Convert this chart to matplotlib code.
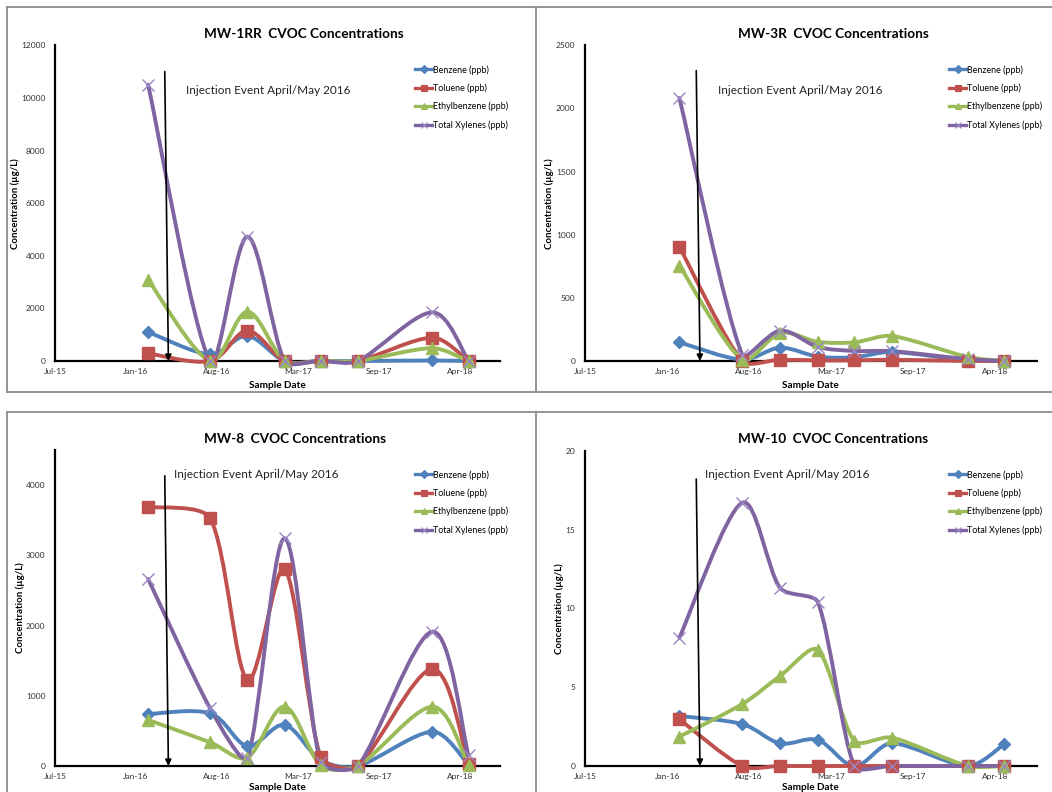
import numpy as np
import pandas as pd
import matplotlib
matplotlib.use('Agg')
import matplotlib.pyplot as plt
import matplotlib.dates as mdates
from matplotlib.path import Path
from matplotlib.patches import PathPatch
from matplotlib.lines import Line2D

plt.rcParams['font.family'] = ['Lato', 'DejaVu Sans']

# ---- data ----
sample_dates = ['2016-03-01', '2016-08-01', '2016-11-01', '2017-02-01',
                '2017-05-01', '2017-08-01', '2018-02-01', '2018-05-01']
series_names = ['Benzene (ppb)', 'Toluene (ppb)', 'Ethylbenzene (ppb)', 'Total Xylenes (ppb)']

mw1rr_benzene = [1100, 250, 950, 0, 0, 0, 20, 0]
mw1rr_toluene = [290, 0, 1150, 0, 0, 0, 890, 0]
mw1rr_ethylbenzene = [3080, 0, 1870, 0, 0, 0, 490, 0]
mw1rr_xylenes = [10500, 0, 4720, 0, 0, 0, 1850, 0]

mw3r_benzene = [148, 10, 105, 35, 30, 72, 5, 0]
mw3r_toluene = [903, 0, 10, 5, 5, 10, 0, 0]
mw3r_ethylbenzene = [755, 10, 220, 152, 148, 198, 32, 0]
mw3r_xylenes = [2082, 50, 240, 112, 80, 78, 15, 0]

mw8_benzene = [740, 750, 285, 584, 85, 0, 488, 20]
mw8_toluene = [3690, 3526, 1224, 2804, 124, 0, 1381, 30]
mw8_ethylbenzene = [655, 337, 120, 844, 10, 0, 844, 10]
mw8_xylenes = [2662, 821, 120, 3241, 50, 0, 1912, 150]

mw10_benzene = [3.17, 2.66, 1.44, 1.65, 0, 1.44, 0, 1.38]
mw10_toluene = [2.96, 0, 0, 0, 0, 0, 0, 0]
mw10_ethylbenzene = [1.86, 3.93, 5.71, 7.36, 1.59, 1.80, 0, 0]
mw10_xylenes = [8.14, 16.7, 11.3, 10.4, 0, 0, 0, 0]

panel_titles = ['MW-1RR  CVOC Concentrations', 'MW-3R  CVOC Concentrations',
                'MW-8  CVOC Concentrations', 'MW-10  CVOC Concentrations']
y_max = [12000, 2500, 4500, 20]
y_step = [2000, 500, 1000, 5]
y_tick_top = [12000, 2500, 4000, 20]
arrow_top = [11000, 2300, 4130, 18.2]

tick_dates = ['2015-07-15', '2016-01-31', '2016-08-18', '2017-03-06', '2017-09-22', '2018-04-10']
tick_labels = ['Jul-15', 'Jan-16', 'Aug-16', 'Mar-17', 'Sep-17', 'Apr-18']
x_start, x_end = '2015-07-15', '2018-07-19'
arrow_dates = ('2016-04-11', '2016-04-20')
note = 'Injection Event April/May 2016'

colors = ['#4F81BD', '#C0504D', '#9BBB59', '#8064A2']
markers = ['D', 's', '^', 'x']
msizes = [6.5, 8, 8, 8.5]

W, H = 1052, 792
fig = plt.figure(figsize=(W / 100, H / 100), dpi=100)


def fx(x):
    return x / W


def fy(y):
    return 1 - y / H


def smooth_patch(ax, xs, ys, color, f=1 / 6):
    # Excel-like smoothed line, built as cubic bezier in screen space
    P = ax.transData.transform(np.column_stack([xs, ys]))
    n = len(P)
    verts, codes = [P[0]], [Path.MOVETO]
    for i in range(n - 1):
        p0 = P[i - 1] if i > 0 else P[i]
        p1, p2 = P[i], P[i + 1]
        p3 = P[i + 2] if i + 2 < n else P[i + 1]
        d01 = np.hypot(*(p1 - p0))
        d12 = np.hypot(*(p2 - p1))
        d23 = np.hypot(*(p3 - p2))
        s1 = min(1, 1.3 * d12 / d01) if d01 > 0 else 1
        s2 = min(1, 1.3 * d12 / d23) if d23 > 0 else 1
        c1 = p1 + f * (p2 - p0) * s1
        c2 = p2 - f * (p3 - p1) * s2
        verts += [c1, c2, p2]
        codes += [Path.CURVE4] * 3
    verts = ax.transData.inverted().transform(np.array(verts))
    patch = PathPatch(Path(verts, codes), facecolor='none', edgecolor=color,
                      lw=2.8, capstyle='round', joinstyle='round', clip_on=False, zorder=3)
    ax.add_patch(patch)


# panel boxes (pixels: left, top, right, bottom)
boxes = [(55, 45.3, 500.5, 361), (585, 45.3, 1036.6, 361),
         (55, 449.9, 500.5, 766), (585, 450.7, 1036.6, 766)]
title_pos = [(304, 34), (833, 34), (295, 439), (833, 439)]
note_pos = [(186, 90), (718, 90), (174, 475), (705, 474)]
legend_pos = [(415, 65), (949, 65), (415, 470), (949, 470)]
ylabel_x = [15, 549, 20, 559]
xlabel_y = [385, 385, 788, 788]

panels = [
    [mw1rr_benzene, mw1rr_toluene, mw1rr_ethylbenzene, mw1rr_xylenes],
    [mw3r_benzene, mw3r_toluene, mw3r_ethylbenzene, mw3r_xylenes],
    [mw8_benzene, mw8_toluene, mw8_ethylbenzene, mw8_xylenes],
    [mw10_benzene, mw10_toluene, mw10_ethylbenzene, mw10_xylenes],
]

xd = mdates.date2num(pd.to_datetime(sample_dates))
xt = mdates.date2num(pd.to_datetime(tick_dates))
x0, x1 = mdates.date2num(pd.to_datetime([x_start, x_end]))
ad = mdates.date2num(pd.to_datetime(list(arrow_dates)))

for k, data in enumerate(panels):
    l, t, r, b = boxes[k]
    ax = fig.add_axes([fx(l), fy(b), fx(r - l), (b - t) / H])
    ax.set_facecolor('none')
    ax.set_xlim(x0, x1)
    ax.set_ylim(0, y_max[k])
    ax.set_xticks(xt)
    ax.set_xticklabels(tick_labels)
    ax.set_yticks(np.arange(0, y_tick_top[k] + y_step[k] / 2, y_step[k]))
    ax.tick_params(length=0, labelsize=6, colors='#333333')
    ax.tick_params(axis='y', pad=7)
    ax.tick_params(axis='x', pad=5)
    for s in ['top', 'right']:
        ax.spines[s].set_visible(False)
    for s in ['left', 'bottom']:
        ax.spines[s].set_linewidth(1.6)
        ax.spines[s].set_color('black')
        ax.spines[s].set_zorder(2)

    for j, ys in enumerate(data):
        smooth_patch(ax, xd, ys, colors[j])
        if markers[j] == 'x':
            ax.plot(xd, ys, ls='none', marker='x', ms=msizes[j], mew=1.0,
                    color='#9A86C2', clip_on=False, zorder=4)
        else:
            ax.plot(xd, ys, ls='none', marker=markers[j], ms=msizes[j],
                    color=colors[j], mec=colors[j], clip_on=False, zorder=4)

    ax.annotate('', xy=(ad[1], 0), xytext=(ad[0], arrow_top[k]),
                arrowprops=dict(arrowstyle='-|>', color='black', lw=1.2,
                                mutation_scale=9, shrinkA=0, shrinkB=0),
                zorder=5)

    ax.set_xlabel('Sample Date', fontsize=7.2, fontweight='bold')
    ax.xaxis.set_label_coords(0.5, -(xlabel_y[k] - b) / (b - t))
    ax.xaxis.label.set_va('center')
    ax.set_ylabel('Concentration (µg/L)', fontsize=6.9, fontweight='bold')
    ax.yaxis.set_label_coords((ylabel_x[k] - l) / (r - l), 0.5)
    ax.yaxis.label.set_va('center')

    handles = []
    for j in range(4):
        mc = '#9A86C2' if markers[j] == 'x' else colors[j]
        handles.append(Line2D([], [], color=colors[j], lw=2.4, marker=markers[j],
                              ms=3.8, mfc=mc, mec=mc, mew=0.8))
    lx, ly = legend_pos[k]
    ax.legend(handles, series_names, loc='upper left', frameon=False,
              bbox_to_anchor=(fx(lx), fy(ly)), bbox_transform=fig.transFigure,
              fontsize=6.4, handlelength=1.95, handletextpad=0.05,
              labelspacing=1.0, borderpad=0, borderaxespad=0)

    fig.text(fx(title_pos[k][0]), fy(title_pos[k][1]), panel_titles[k],
             ha='center', va='center', fontsize=9.8, fontweight='bold')
    fig.text(fx(note_pos[k][0]), fy(note_pos[k][1]), note,
             ha='left', va='center', fontsize=8.5, color='#222222')

# gray frames around the four charts
frame = dict(color='#8C8C8C', lw=1.3, transform=fig.transFigure)
fig.add_artist(Line2D([fx(7), 1], [fy(7), fy(7)], **frame))
fig.add_artist(Line2D([fx(7), 1], [fy(391.5), fy(391.5)], **frame))
fig.add_artist(Line2D([fx(7), 1], [fy(412), fy(412)], **frame))
fig.add_artist(Line2D([fx(7), fx(7)], [fy(7), fy(391.5)], **frame))
fig.add_artist(Line2D([fx(7), fx(7)], [fy(412), 0], **frame))
fig.add_artist(Line2D([fx(536), fx(536)], [fy(7), fy(391.5)], **frame))
fig.add_artist(Line2D([fx(536), fx(536)], [fy(412), 0], **frame))

fig.savefig('out.png', dpi=100)
